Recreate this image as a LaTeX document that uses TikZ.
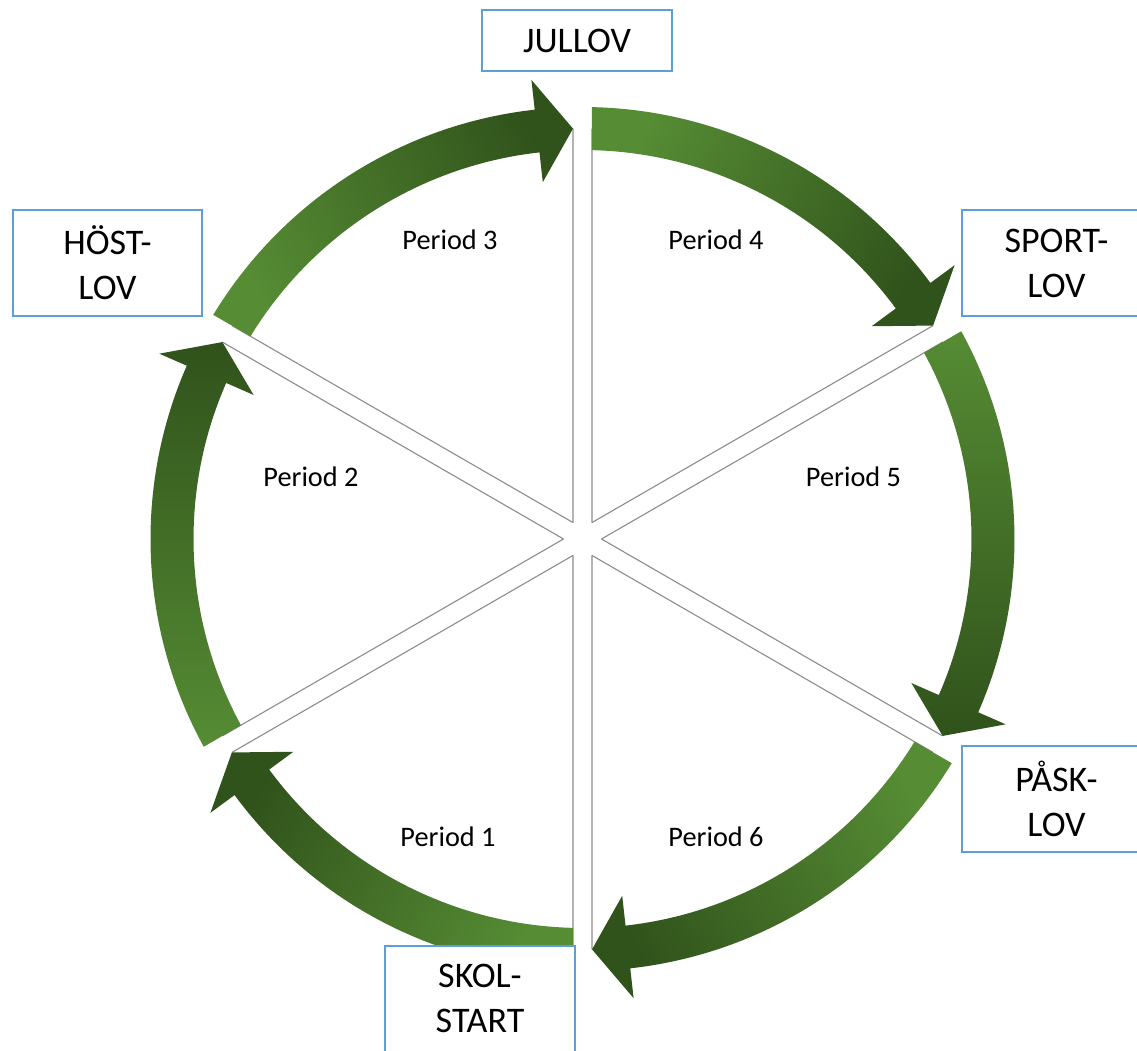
\documentclass[tikz,border=0pt]{standalone}
\usepackage{fontspec}
\setmainfont{Carlito}
\begin{document}
\begin{tikzpicture}[x=1pt,y=1pt,
  spoke/.style={draw=black!45, line width=1.1pt},
  lovbox/.style={draw=lovblue, line width=2pt, fill=white, minimum width=189pt,
    minimum height=106pt, inner sep=0pt, align=center,
    font=\fontsize{36}{45}\selectfont},
  periodlabel/.style={anchor=base, inner sep=0pt, font=\fontsize{28.3}{34}\selectfont}]
\definecolor{lovblue}{RGB}{95,157,215}
\definecolor{arrowlight}{RGB}{86,140,52}
\definecolor{arrowdark}{RGB}{48,82,27}
\useasboundingbox (-582.5,-511) rectangle (554.5,539);
\clip (-582.5,-511) rectangle (554.5,539);

% six wedges separated by white gaps
\foreach \b in {240,180,120,60,0,-60}{
  \draw[spoke] (\b:19) -- ({\b+28.67}:410.5);
  \draw[spoke] (\b:19) -- ({\b-28.67}:410.5);
}

% curved block arrows running clockwise round the year
\foreach \b in {240,180,120,60,0,-60}{
  \pgfmathsetmacro\sa{\b-180}
  \shade[top color=arrowdark, bottom color=arrowlight, shading angle=\sa]
    ({\b+28.74}:432) arc[start angle=\b+28.74, end angle=\b-23.65, radius=432]
    -- ({\b-23.65}:462) -- ({\b-28.67}:410.5) -- ({\b-23.65}:359)
    -- ({\b-23.65}:389) arc[start angle=\b-23.65, end angle=\b+28.60, radius=389]
    -- cycle;
}

% holiday boxes
\node[lovbox, minimum height=61pt] (jul) at (-5.5,498.5) {JULLOV};
\node[lovbox] (host) at (-475,276) {HÖST-\\LOV};
\node[lovbox] (sport) at (474,276) {SPORT-\\LOV};
\node[lovbox] (pask) at (474,-259.5) {PÅSK-\\LOV};
\node[lovbox] (skol) at (-102.5,-459.5) {SKOL-\\START};

% period labels
\node[periodlabel] (p3) at (-132.5,289) {Period 3};
\node[periodlabel] (p4) at (133.5,289) {Period 4};
\node[periodlabel] (p2) at (-271.5,53) {Period 2};
\node[periodlabel] (p5) at (271,53) {Period 5};
\node[periodlabel] (p1) at (-134.5,-307) {Period 1};
\node[periodlabel] (p6) at (133.5,-307) {Period 6};
\end{tikzpicture}
\end{document}
